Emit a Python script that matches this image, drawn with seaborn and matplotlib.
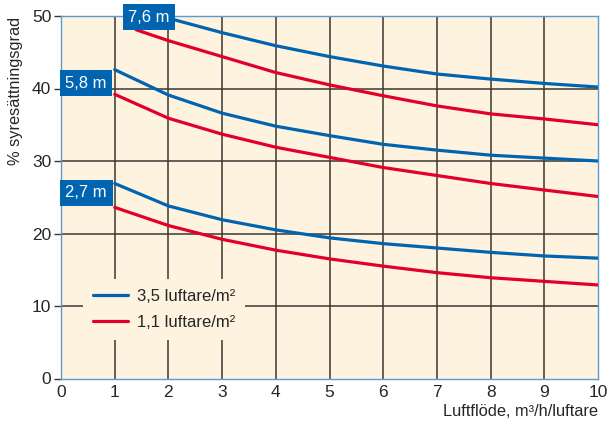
import matplotlib
matplotlib.use("Agg")
import matplotlib.pyplot as plt
import seaborn as sns
import pandas as pd

# airflow (m3/h per aerator)
x_full = [1, 2, 3, 4, 5, 6, 7, 8, 9, 10]
x_76_blue = [2, 3, 4, 5, 6, 7, 8, 9, 10]
x_76_red = [1.4, 2, 3, 4, 5, 6, 7, 8, 9, 10]

# % oxygen saturation, 3,5 aerators/m2 (blue) and 1,1 aerators/m2 (red)
blue_27 = [26.9, 23.8, 21.9, 20.5, 19.4, 18.6, 18.0, 17.4, 16.9, 16.6]
red_27 = [23.6, 21.1, 19.2, 17.7, 16.5, 15.5, 14.6, 13.9, 13.4, 12.9]
blue_58 = [42.6, 39.1, 36.6, 34.8, 33.5, 32.3, 31.5, 30.8, 30.4, 30.0]
red_58 = [39.2, 35.9, 33.7, 31.9, 30.5, 29.1, 28.0, 26.9, 26.0, 25.1]
blue_76 = [49.7, 47.7, 45.9, 44.4, 43.1, 42.0, 41.3, 40.7, 40.2]
red_76 = [48.1, 46.6, 44.4, 42.2, 40.5, 39.0, 37.6, 36.5, 35.8, 35.0]

depth_labels = ["2,7 m", "5,8 m", "7,6 m"]
depth_label_pos = [(0.47, 25.6), (0.47, 40.7), (1.64, 49.8)]
legend_labels = ["3,5 luftare/m²", "1,1 luftare/m²"]

BLUE = "#0064b0"
RED = "#e2002a"
CREAM = "#fdf3de"
FRAME = "#5b9bd5"
GRID = "#3b3631"

sns.set_theme(style="white")
plt.rcParams["font.family"] = ["Liberation Sans", "DejaVu Sans"]

fig = plt.figure(figsize=(6.13, 4.26), dpi=100)
ax = fig.add_axes([61 / 613, 1 - 378.5 / 426, 537 / 613, (378.5 - 16) / 426])
ax.set_facecolor(CREAM)

series = [
    (x_full, blue_27, BLUE), (x_full, red_27, RED),
    (x_full, blue_58, BLUE), (x_full, red_58, RED),
    (x_76_blue, blue_76, BLUE), (x_76_red, red_76, RED),
]
for xs, ys, col in series:
    df = pd.DataFrame({"x": xs, "y": ys})
    sns.lineplot(data=df, x="x", y="y", color=col, linewidth=2.3, ax=ax, zorder=3)

ax.set_xlim(0, 10)
ax.set_ylim(0, 50)
ax.set_xticks(range(0, 11))
ax.set_yticks(range(0, 51, 10))
ax.set_xlabel("")
ax.set_ylabel("")
for v in range(1, 10):
    ax.axvline(v, color=GRID, lw=1.1, zorder=1)
for v in range(10, 50, 10):
    ax.axhline(v, color=GRID, lw=1.1, zorder=1)

for s in ax.spines.values():
    s.set_color(FRAME)
    s.set_linewidth(1.0)
ax.tick_params(axis="y", length=5, width=1, color=GRID, labelsize=12.5, pad=2, left=True)
ax.tick_params(axis="x", length=0, labelsize=12.5, pad=5)

for txt, (tx, ty) in zip(depth_labels, depth_label_pos):
    ax.text(tx, ty, txt, color="white", fontsize=12, ha="center", va="center", zorder=5,
            bbox=dict(facecolor=BLUE, edgecolor="none", pad=4), clip_on=False)

handles = [plt.Line2D([], [], color=BLUE, lw=2.3), plt.Line2D([], [], color=RED, lw=2.3)]
leg = ax.legend(handles, legend_labels, loc="center left", bbox_to_anchor=(0.025, 0.19),
                frameon=True, facecolor=CREAM, edgecolor="none", framealpha=1,
                fontsize=12, handlelength=2.1, handletextpad=0.55, labelspacing=0.65,
                borderpad=0.6)
leg.set_zorder(4)

fig.text(0.026, 1 - 17 / 426, "% syresättningsgrad", rotation=90, ha="center", va="top", fontsize=11.8)
fig.text(598 / 613, 1 - 411 / 426, "Luftflöde, m³/h/luftare", ha="right", va="center", fontsize=11.8)

fig.savefig("out.png", dpi=100)
